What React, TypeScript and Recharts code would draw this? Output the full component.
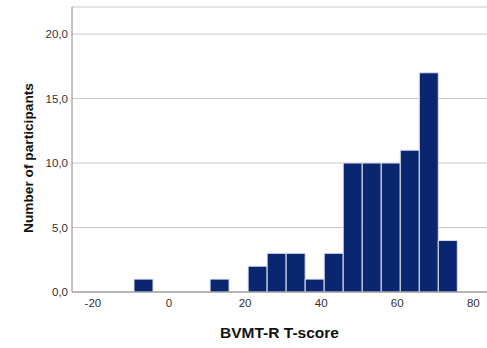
import { Bar, BarChart, CartesianGrid, Label, XAxis, YAxis } from "recharts";

// Histogram bins: lower edge of each 5-point bin and how many fell in it
const binStarts = [-9.2, -4.2, 0.8, 5.8, 10.8, 15.8, 20.8, 25.8, 30.8, 35.8, 40.8, 45.8, 50.8, 55.8, 60.8, 65.8, 70.8];
const counts = [1, 0, 0, 0, 1, 0, 2, 3, 3, 1, 3, 10, 10, 10, 11, 17, 4];
const binWidth = 5;

const xTicks = [-20, 0, 20, 40, 60, 80];
const yTicks = [0, 5, 10, 15, 20];

const data = binStarts.map((start, i) => ({
    mid: start + binWidth / 2,
    count: counts[i],
}));

const font = "Arial, 'Liberation Sans', sans-serif";

// rotated y-axis title, sitting a little below the plot's middle
const YTitle = () => (
    <text
        x={28}
        y={158}
        transform="rotate(-90 28 158)"
        textAnchor="middle"
        dominantBaseline="central"
        fill="#111"
        fontSize={13.7}
        fontWeight="bold"
        fontFamily={font}
    >
        Number of participants
    </text>
);

function App() {
    return (
        <div style={{ position: "absolute", left: 0, top: 0, background: "#fff" }}>
            <BarChart
                width={487}
                height={348}
                data={data}
                barCategoryGap={0}
                barGap={0}
                margin={{ top: 7, right: 0, left: 0, bottom: 0 }}
            >
                <CartesianGrid vertical={false} stroke="#c8c8c8" />
                <XAxis
                    dataKey="mid"
                    type="number"
                    domain={[-25.5, 83.6]}
                    ticks={xTicks}
                    allowDataOverflow
                    height={56}
                    tickLine={false}
                    tickSize={5}
                    tickMargin={2}
                    axisLine={{ stroke: "#8a8a8a" }}
                    tick={{ fill: "#333", fontSize: 11.5, fontFamily: font }}
                >
                    <Label
                        value="BVMT-R T-score"
                        position="insideBottom"
                        offset={10}
                        style={{ fill: "#111", fontSize: 15.5, fontWeight: "bold", fontFamily: font }}
                    />
                </XAxis>
                <YAxis
                    type="number"
                    domain={[0, 22.1]}
                    ticks={yTicks}
                    allowDataOverflow
                    width={72}
                    tickLine={false}
                    tickSize={2}
                    tickMargin={2}
                    axisLine={{ stroke: "#8a8a8a" }}
                    tickFormatter={(v: number) => v.toFixed(1).replace(".", ",")}
                    tick={{ fill: "#333", fontSize: 11.5, fontFamily: font }}
                >
                    <Label content={YTitle} />
                </YAxis>
                <Bar
                    dataKey="count"
                    fill="#0b2670"
                    stroke="#dde3ef"
                    strokeWidth={1}
                    isAnimationActive={false}
                />
            </BarChart>
        </div>
    );
}

export default App;
